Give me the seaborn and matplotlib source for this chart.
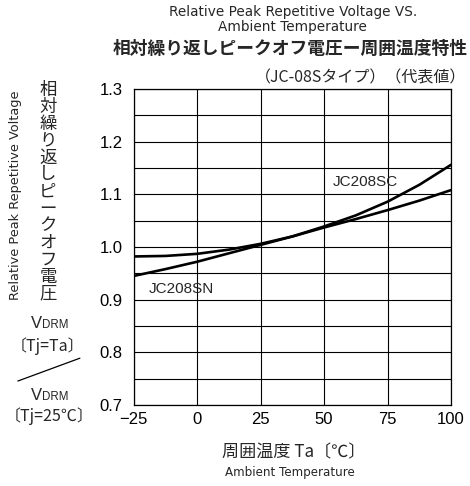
import numpy as np
import pandas as pd
import matplotlib
matplotlib.use('Agg')
import matplotlib.pyplot as plt
import seaborn as sns
from matplotlib.lines import Line2D

# values
ta = [-25, -12.5, 0, 12.5, 25, 37.5, 50, 62.5, 75, 87.5, 100]
jc208sc = [0.982, 0.983, 0.987, 0.995, 1.006, 1.020, 1.039, 1.060, 1.086, 1.118, 1.156]
jc208sn = [0.945, 0.958, 0.972, 0.988, 1.004, 1.020, 1.037, 1.053, 1.070, 1.088, 1.108]
x_ticks = [-25, 0, 25, 50, 75, 100]
y_ticks = [0.7, 0.8, 0.9, 1.0, 1.1, 1.2, 1.3]

df = pd.DataFrame({
    'Ta': ta * 2,
    'ratio': jc208sc + jc208sn,
    'type': ['JC208SC'] * len(ta) + ['JC208SN'] * len(ta),
})

sns.set_style('white')
plt.rcParams['font.family'] = ['Liberation Sans', 'Noto Sans CJK JP', 'DejaVu Sans']
plt.rcParams['axes.unicode_minus'] = True
wide = ['DejaVu Sans']
jp = ['Noto Sans CJK JP', 'DejaVu Sans']

fig = plt.figure(figsize=(4.70, 4.86), dpi=100)
ax = fig.add_axes([0.2845, 0.1667, 0.6751, 0.6502])

sns.lineplot(data=df, x='Ta', y='ratio', hue='type', palette=['black', 'black'],
             linewidth=1.9, legend=False, ax=ax)

ax.set_xlim(-25, 100)
ax.set_ylim(0.7, 1.3)
ax.set_xticks(x_ticks)
ax.set_yticks(y_ticks)
ax.set_xticklabels([str(v).replace('-', '\u2212') for v in x_ticks])
ax.set_yticklabels([f'{v:.1f}' for v in y_ticks])
ax.set_yticks(np.arange(0.75, 1.3, 0.1), minor=True)
ax.grid(True, which='both', color='black', linewidth=0.8)
ax.tick_params(axis='both', which='both', length=0, labelsize=12, colors='black')
ax.tick_params(axis='x', pad=5)
ax.tick_params(axis='y', pad=8)
for s in ax.spines.values():
    s.set_color('black')
    s.set_linewidth(0.9)
ax.set_xlabel('')
ax.set_ylabel('')

ax.text(53.5, 1.1235, 'JC208SC', fontsize=11, va='center', ha='left')
ax.text(-19, 0.920, 'JC208SN', fontsize=11, va='center', ha='left')

# titles
fig.text(0.623, 0.976, 'Relative Peak Repetitive Voltage VS.', ha='center', va='center',
         fontsize=9.8, family=wide)
fig.text(0.623, 0.945, 'Ambient Temperature', ha='center', va='center',
         fontsize=9.8, family=wide)
fig.text(0.618, 0.900, '相対繰り返しピークオフ電圧ー周囲温度特性',
         ha='center', va='center', fontsize=12.8, fontweight='bold', family=jp)
fig.text(0.991, 0.840, '（JC-08Sタイプ）（代表値）', ha='right', va='center',
         fontsize=11.5, family=jp)

# x label
fig.text(0.626, 0.069, '周囲温度 Ta〔℃〕', ha='center', va='center', fontsize=12.3, family=jp)
fig.text(0.617, 0.027, 'Ambient Temperature', ha='center', va='center',
         fontsize=8.6, family=wide)

# y label
fig.text(0.032, 0.599, 'Relative Peak Repetitive Voltage', rotation=90,
         ha='center', va='center', fontsize=9.3, family=wide)
ylab_jp = '相対繰り返しピークオフ電圧'
for i, ch in enumerate(ylab_jp):
    fig.text(0.102, 1 - (89.5 + 17 * i) / 486, ch, ha='center', va='center',
             fontsize=12.5, family=jp)

for yy in (0.325, 0.177):
    fig.text(0.0887, yy, 'V', ha='right', va='baseline', fontsize=12)
    fig.text(0.0887, yy, 'DRM', ha='left', va='baseline', fontsize=8.3)
fig.text(0.101, 0.288, '〔Tj=Ta〕', ha='center', va='center', fontsize=11.5, family=jp)
fig.text(0.104, 0.144, '〔Tj=25℃〕', ha='center', va='center', fontsize=11.5, family=jp)
fig.add_artist(Line2D([0.038, 0.170], [0.216, 0.263], color='black', linewidth=0.9,
                      transform=fig.transFigure))

plt.savefig('out.png', dpi=100)
